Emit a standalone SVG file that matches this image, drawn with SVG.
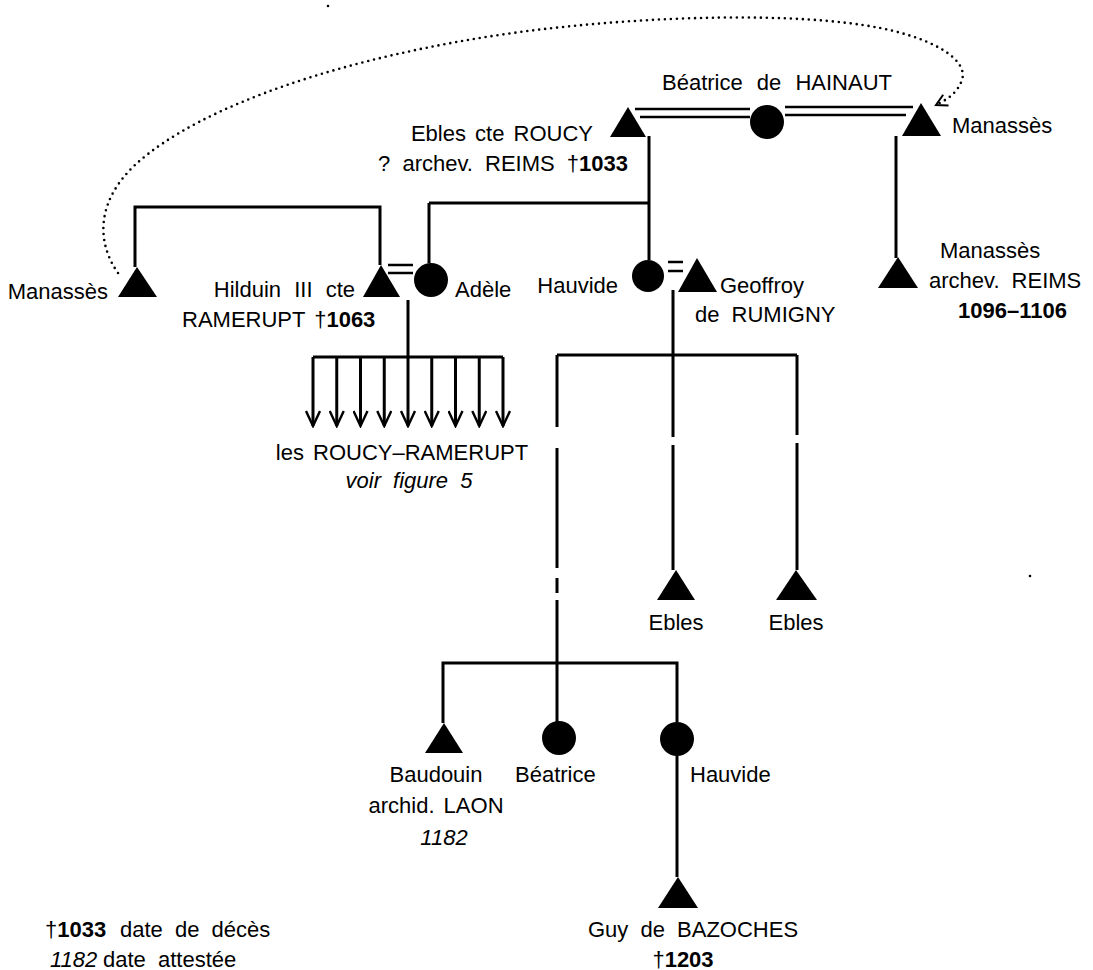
<svg xmlns="http://www.w3.org/2000/svg" width="1093" height="970" viewBox="0 0 1093 970">
<style>
.t{font-family:"Liberation Sans",Arial,sans-serif;font-size:22px;fill:#000;word-spacing:3px}
.b{font-weight:bold}
.i{font-style:italic}
.m{fill:#000;stroke:none}
.ln{stroke:#000;stroke-width:3;fill:none}
.dl{stroke:#000;stroke-width:2.6;fill:none}
.dot{stroke:#000;stroke-width:2.6;fill:none;stroke-dasharray:0 6;stroke-linecap:round}
</style>
<defs>
<marker id="arr" markerUnits="userSpaceOnUse" markerWidth="18" markerHeight="16" viewBox="0 0 18 16" refX="16" refY="8" orient="auto">
<path d="M1,1 L16,8 L1,15" fill="none" stroke="#000" stroke-width="2.4"/>
</marker>
<marker id="arr2" markerUnits="userSpaceOnUse" markerWidth="14" markerHeight="14" viewBox="0 0 14 14" refX="12" refY="7" orient="auto">
<path d="M1,1 L12,7 L1,13" fill="none" stroke="#000" stroke-width="2"/>
</marker>
</defs>
<rect width="1093" height="970" fill="#fff"/>

<g id="connectors">
<path class="dl" d="M635,109 H750 M640,117 H750 M785,107 H913 M785,115 H906"/>
<path class="ln" d="M649,136 V260 M429,203 H649 M429,203 V263"/>
<path class="ln" d="M135,267 V207 H380 V265"/>
<path class="dl" d="M388,265 H413 M388,273 H413"/>
<path class="ln" d="M408,300 V357 M313,357 H503"/>
<g class="ln" marker-end="url(#arr)">
<path d="M313,357 V426"/><path d="M336.75,357 V426"/><path d="M360.5,357 V426"/><path d="M384.25,357 V426"/><path d="M408,357 V426"/><path d="M431.75,357 V426"/><path d="M455.5,357 V426"/><path d="M479.25,357 V426"/><path d="M503,357 V426"/>
</g>
<path class="ln" d="M896,136 V258"/>
<path class="dl" d="M668,262 H683 M668,271 H683"/>
<path class="ln" d="M673,290 V437 M673,445 V570 M557,355 H797 M797,355 V435 M797,443 V570"/>
<path class="ln" d="M557,355 V427 M557,448 V568 M557,578 V593 M557,600 V722"/>
<path class="ln" d="M443,723 V663 H677 V722 M677,756 V877"/>
<path class="dot" marker-end="url(#arr2)" d="M118,273 C95,240 98,200 135,165 C200,105 350,55 520,32 C650,15 800,12 880,28 C940,40 968,62 962,80 C957,94 946,100 936,105"/>
<circle class="m" cx="328" cy="6" r="1.3"/>
<circle class="m" cx="1030" cy="576" r="1.3"/>
</g>

<g id="ebles_roucy">
<polygon class="m" points="628,107 610,137 646,137"/>
<text class="t" x="593" y="141" text-anchor="end">Ebles cte ROUCY</text>
<text class="t" x="628" y="171" text-anchor="end" style="word-spacing:6px">? archev. REIMS  †<tspan class="b">1033</tspan></text>
</g>
<g id="beatrice_hainaut">
<circle class="m" cx="767" cy="122" r="17"/>
<text class="t" x="662" y="90" style="word-spacing:8px">Béatrice de HAINAUT</text>
</g>
<g id="manasses_top">
<polygon class="m" points="921,103 902,136 941,136"/>
<text class="t" x="952" y="133">Manassès</text>
</g>
<g id="manasses_left">
<polygon class="m" points="137,267 118,297 157,297"/>
<text class="t" x="108" y="299" text-anchor="end">Manassès</text>
</g>
<g id="hilduin">
<polygon class="m" points="381,265 363,297 400,297"/>
<text class="t" x="355" y="297" text-anchor="end" style="word-spacing:7px">Hilduin III cte</text>
<text class="t" x="182" y="327">RAMERUPT  †<tspan class="b">1063</tspan></text>
</g>
<g id="adele">
<circle class="m" cx="431" cy="280" r="17"/>
<text class="t" x="455" y="297">Adèle</text>
</g>
<g id="roucy_ramerupt">
<text class="t" x="402" y="460" text-anchor="middle">les ROUCY–RAMERUPT</text>
<text class="t i" x="409" y="488" text-anchor="middle" style="word-spacing:6px">voir figure 5</text>
</g>
<g id="hauvide">
<circle class="m" cx="648" cy="276" r="16"/>
<text class="t" x="618" y="293" text-anchor="end">Hauvide</text>
</g>
<g id="geoffroy">
<polygon class="m" points="697,258 678,292 717,292"/>
<text class="t" x="720" y="293">Geoffroy</text>
<text class="t" x="695" y="322" style="word-spacing:6px">de RUMIGNY</text>
</g>
<g id="manasses_archev">
<polygon class="m" points="898,257 878,288 918,288"/>
<text class="t" x="940" y="258">Manassès</text>
<text class="t" x="929" y="288" style="word-spacing:6px">archev. REIMS</text>
<text class="t b" x="958" y="318">1096–1106</text>
</g>
<g id="ebles_1">
<polygon class="m" points="676,570 657,600 695,600"/>
<text class="t" x="676" y="630" text-anchor="middle">Ebles</text>
</g>
<g id="ebles_2">
<polygon class="m" points="796,570 776,600 817,600"/>
<text class="t" x="796" y="630" text-anchor="middle">Ebles</text>
</g>
<g id="baudouin">
<polygon class="m" points="444,723 425,753 463,753"/>
<text class="t" x="436" y="782" text-anchor="middle">Baudouin</text>
<text class="t" x="436" y="813" text-anchor="middle">archid. LAON</text>
<text class="t i" x="444" y="845" text-anchor="middle">1182</text>
</g>
<g id="beatrice">
<circle class="m" cx="559" cy="738" r="17"/>
<text class="t" x="515" y="782">Béatrice</text>
</g>
<g id="hauvide_2">
<circle class="m" cx="677" cy="739" r="17"/>
<text class="t" x="690" y="782">Hauvide</text>
</g>
<g id="guy_bazoches">
<polygon class="m" points="678,877 658,908 698,908"/>
<text class="t" x="588" y="937" style="word-spacing:6px">Guy de BAZOCHES</text>
<text class="t" x="683" y="967" text-anchor="middle">†<tspan class="b">1203</tspan></text>
</g>
<g id="legend">
<text class="t" x="45" y="937">†<tspan class="b">1033</tspan></text>
<text class="t" x="120" y="937" style="word-spacing:6px">date de décès</text>
<text class="t i" x="50" y="967">1182</text>
<text class="t" x="103" y="967" style="word-spacing:6px">date attestée</text>
</g>
</svg>
